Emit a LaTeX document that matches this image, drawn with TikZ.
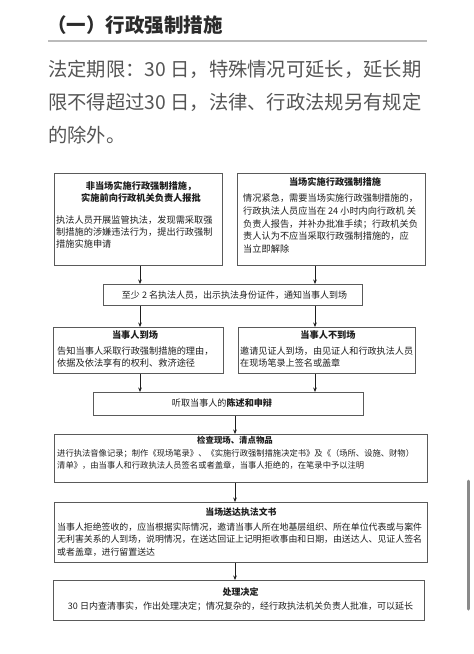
\documentclass[tikz,border=0pt]{standalone}
\usepackage{fontspec}
\setmainfont{Noto Sans CJK SC}
\usetikzlibrary{arrows.meta}
\definecolor{boxline}{HTML}{5A5A5A}
\definecolor{textc}{HTML}{1E1E1E}
\definecolor{headc}{HTML}{2B2B2B}
\definecolor{parac}{HTML}{555555}
\definecolor{rulec}{HTML}{BBBBBB}
\definecolor{scrollc}{HTML}{8A8A8A}
\tikzset{
    box/.style={draw=boxline, line width=0.8pt, rectangle, anchor=north west, inner sep=0pt},
    ttl/.style={font=\fontsize{9.2}{12}\selectfont\bfseries, align=center, inner sep=0pt, text=textc},
    txt/.style={font=\fontsize{9.2}{12}\selectfont, align=left, inner sep=0pt, anchor=west, text=textc},
}

\begin{document}
\begin{tikzpicture}[x=1pt, y=-1pt]
        \useasboundingbox (0,0) rectangle (474,654);

        % heading and text above the chart
        \node[anchor=west, inner sep=0pt, text=headc, font=\fontsize{19.5}{20}\selectfont\bfseries] (head) at (47,25) {（一）行政强制措施};
        \coordinate (ruleL) at (48,41);
        \coordinate (ruleR) at (427,41);
        \draw[rulec, line width=1.5pt] (ruleL) -- (ruleR);
        \node[anchor=west, align=left, inner sep=0pt, text=parac, font=\fontsize{19.3}{33}\selectfont] (para) at (48,102)
            {法定期限：30 日，特殊情况可延长，延长期\\限不得超过30 日，法律、行政法规另有规定\\的除外。};

        % boxes
        \node[box, minimum width=168pt, minimum height=92pt] (lt) at (54,173) {};
        \node[box, minimum width=188pt, minimum height=92pt] (rt) at (237,173) {};
        \node[box, minimum width=259pt, minimum height=21pt] (least) at (103,284) {};
        \node[box, minimum width=170pt, minimum height=46pt] (arrive) at (53,327) {};
        \node[box, minimum width=177pt, minimum height=46pt] (absent) at (238,327) {};
        \node[box, minimum width=270pt, minimum height=23pt] (hear) at (93,392) {};
        \node[box, minimum width=373pt, minimum height=48pt] (check) at (54,434) {};
        \node[box, minimum width=373pt, minimum height=60pt] (deliver) at (54,502) {};
        \node[box, minimum width=371pt, minimum height=40pt] (decide) at (53,580) {};

        % texts in the boxes
        \node[ttl] (ltT) at (141,192) {非当场实施行政强制措施，\\实施前向行政机关负责人报批};
        \node[txt] (ltB) at (56,232) {执法人员开展监管执法，发现需采取强\\制措施的涉嫌违法行为，提出行政强制\\措施实施申请};

        \node[ttl] (rtT) at (335,182) {当场实施行政强制措施};
        \node[txt, font=\fontsize{9.2}{12.75}\selectfont] (rtB) at (243,223.5) {情况紧急，需要当场实施行政强制措施的，\\行政执法人员应当在 24 小时内向行政机 关\\负责人报告，并补办批准手续；行政机关负\\责人认为不应当采取行政强制措施的，应\\当立即解除};

        \node[ttl, font=\fontsize{9}{12}\selectfont] (leastT) at (234.5,295) {至少 2 名执法人员，出示执法身份证件，通知当事人到场};

        \node[ttl] (arriveT) at (135,335) {当事人到场};
        \node[txt] (arriveB) at (57,357) {告知当事人采取行政强制措施的理由，\\依据及依法享有的权利、救济途径};

        \node[ttl] (absentT) at (328,335) {当事人不到场};
        \node[txt, font=\fontsize{9.1}{12}\selectfont] (absentB) at (240,357) {邀请见证人到场，由见证人和行政执法人员\\在现场笔录上签名或盖章};

        \node[ttl, font=\fontsize{9.1}{12}\selectfont] (hearT) at (222,403) {\mdseries 听取当事人的\bfseries 陈述和申辩};

        \node[ttl, font=\fontsize{8.4}{12}\selectfont\bfseries] (checkT) at (235,440) {检查现场、清点物品};
        \node[txt, font=\fontsize{8.3}{12}\selectfont] (checkB) at (57,459) {进行执法音像记录；制作《现场笔录》、《实施行政强制措施决定书》及《（场所、设施、财物）\\清单》，由当事人和行政执法人员签名或者盖章，当事人拒绝的，在笔录中予以注明};

        \node[ttl, font=\fontsize{8.9}{12}\selectfont\bfseries] (deliverT) at (241,512) {当场送达执法文书};
        \node[txt, font=\fontsize{8.9}{12.5}\selectfont] (deliverB) at (57,539.5) {当事人拒绝签收的，应当根据实际情况，邀请当事人所在地基层组织、所在单位代表或与案件\\无利害关系的人到场，说明情况，在送达回证上记明拒收事由和日期，由送达人、见证人签名\\或者盖章，进行留置送达};

        \node[ttl, font=\fontsize{9}{12}\selectfont\bfseries] (decideT) at (240.5,592) {处理决定};
        \node[ttl, font=\fontsize{9}{12}\selectfont] (decideB) at (240.5,606) {30 日内查清事实，作出处理决定；情况复杂的，经行政执法机关负责人批准，可以延长};

        % columns of the arrows
        \coordinate (colL) at (140,0);
        \coordinate (colR) at (315,0);
        \coordinate (colM) at (235,0);

        \begin{scope}[-{Stealth[length=4.5pt, width=3.6pt]}, line width=0.8pt, textc]
            \draw (lt.south -| colL) -- (least.north -| colL);
            \draw (rt.south -| colR) -- (least.north -| colR);
            \draw (least.south -| colL) -- (arrive.north -| colL);
            \draw (least.south -| colR) -- (absent.north -| colR);
            \draw (arrive.south -| colL) -- (hear.north -| colL);
            \draw (absent.south -| colR) -- (hear.north -| colR);
            \draw (hear.south -| colM) -- (check.north -| colM);
            \draw (check.south -| colM) -- (deliver.north -| colM);
            \draw (deliver.south -| colM) -- (decide.north -| colM);
        \end{scope}

        % scroll bar at the right edge
        \coordinate (barT) at (468,481);
        \coordinate (barB) at (468,609);
        \draw[scrollc, line width=3pt, line cap=round] (barT) -- (barB);
\end{tikzpicture}
\end{document}
